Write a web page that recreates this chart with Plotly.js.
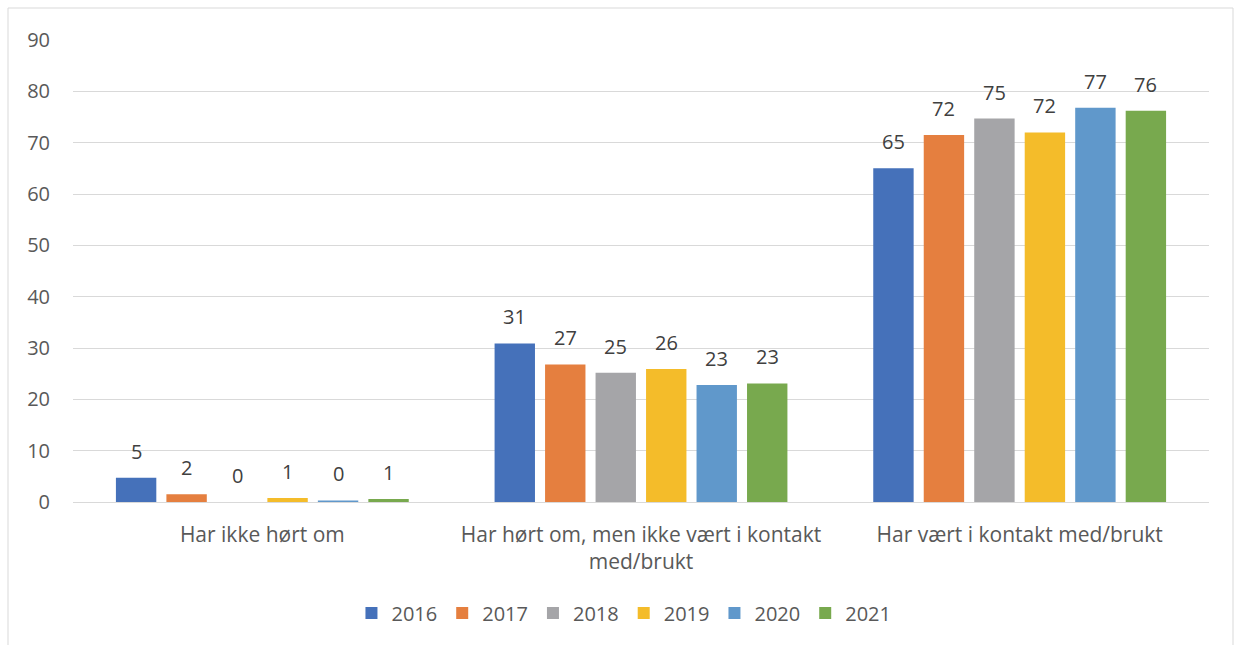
<!DOCTYPE html>
<html>
<head>
<meta charset="utf-8">
<script src="https://cdn.plot.ly/plotly-3.0.1.min.js"></script>
<style>
html,body{margin:0;padding:0;background:#fff;}
#chart{width:1235px;height:645px;}
</style>
</head>
<body>
<div id="chart"></div>
<script>
const categories = [
  "Har ikke hørt om",
  "Har hørt om, men ikke vært i kontakt<br>med/brukt",
  "Har vært i kontakt med/brukt"
];
const years = ["2016", "2017", "2018", "2019", "2020", "2021"];
const values2016 = [4.7, 30.9, 65.0];
const values2017 = [1.5, 26.8, 71.5];
const values2018 = [0.0, 25.2, 74.7];
const values2019 = [0.8, 25.9, 72.0];
const values2020 = [0.3, 22.8, 76.8];
const values2021 = [0.6, 23.1, 76.2];
const colors = ["#4571BA", "#E57F3F", "#A5A5A8", "#F4BC2A", "#6098CB", "#78A94E"];

const series = [values2016, values2017, values2018, values2019, values2020, values2021];
const FONT = "Open Sans, sans-serif";
const bargap = 0.2;
const nS = series.length;

const traces = series.map((vals, i) => ({
  type: "bar",
  name: years[i],
  x: categories,
  y: vals,
  marker: {color: colors[i]},
  hoverinfo: "x+y+name"
}));

const annotations = [];
series.forEach((vals, i) => {
  vals.forEach((v, c) => {
    annotations.push({
      x: c + (i - (nS - 1) / 2) * (1 - bargap) / nS,
      y: v,
      xref: "x", yref: "y",
      text: String(Math.round(v)),
      showarrow: false,
      yanchor: "bottom",
      yshift: 11,
      font: {family: FONT, size: 20, color: "#404040"}
    });
  });
});

const L = 73, R = 1209, T = 40, B = 502;
const pw = R - L, ph = B - T;
const shapes = [{
  type: "rect", xref: "paper", yref: "paper",
  x0: (8 - L) / pw, x1: (1233 - L) / pw,
  y0: (B - 700) / ph, y1: (B - 8) / ph,
  line: {color: "#D9D9D9", width: 1},
  fillcolor: "rgba(0,0,0,0)",
  layer: "below"
}];

const layout = {
  width: 1235, height: 645,
  margin: {l: L, r: 1235 - R, t: T, b: 645 - B},
  paper_bgcolor: "#fff", plot_bgcolor: "#fff",
  barmode: "group",
  bargap: bargap,
  bargroupgap: 0.2,
  font: {family: FONT, size: 20, color: "#595959"},
  xaxis: {
    type: "category",
    showgrid: false,
    showline: false,
    zeroline: false,
    automargin: false,
    ticks: "",
    tickfont: {family: FONT, size: 21, color: "#595959"},
    ticklabelstandoff: 18
  },
  yaxis: {
    range: [0, 90],
    dtick: 10,
    tick0: 0,
    automargin: false,
    showgrid: true,
    gridcolor: "#D9D9D9",
    gridwidth: 1,
    zeroline: true,
    zerolinecolor: "#D9D9D9",
    zerolinewidth: 1,
    showline: false,
    ticks: "",
    ticklabelstandoff: 22,
    tickfont: {family: FONT, size: 20, color: "#595959"}
  },
  showlegend: true,
  legend: {
    orientation: "h",
    x: 0.485, xanchor: "center",
    y: -0.24, yanchor: "middle",
    font: {family: FONT, size: 20, color: "#595959"},
    itemclick: false, itemdoubleclick: false
  },
  annotations: annotations,
  shapes: shapes
};

Plotly.newPlot("chart", traces, layout, {displayModeBar: false, staticPlot: true});
</script>
</body>
</html>
